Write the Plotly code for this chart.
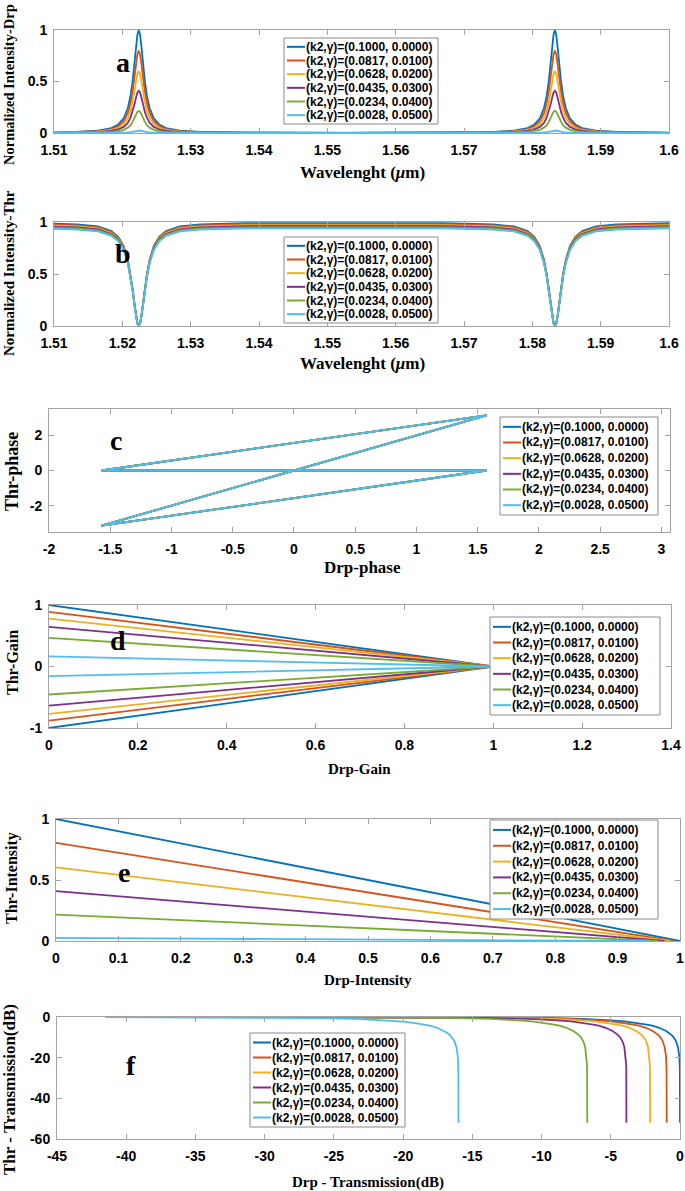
import plotly.graph_objects as go

W, H = 685, 1191

series_labels = ["(k2,γ)=(0.1000, 0.0000)", "(k2,γ)=(0.0817, 0.0100)", "(k2,γ)=(0.0628, 0.0200)",
                 "(k2,γ)=(0.0435, 0.0300)", "(k2,γ)=(0.0234, 0.0400)", "(k2,γ)=(0.0028, 0.0500)"]
colors = ["#0072BD", "#D95319", "#EDB120", "#7E2F8E", "#77AC30", "#4DBEEE"]

# ---------------- panel a / b : wavelength (um) ----------------
wavelength_um = [1.51, 1.5134, 1.5164, 1.5184, 1.5194, 1.5202, 1.5208, 1.5212, 1.5215, 1.5218, 1.5220, 1.5222,
                 1.5224, 1.5226, 1.5228, 1.5230, 1.5233, 1.5236, 1.5240, 1.5246, 1.5254, 1.5264, 1.5284, 1.5314,
                 1.538, 1.5528, 1.567, 1.5743, 1.5773, 1.5793, 1.5803, 1.5811, 1.5817, 1.5821, 1.5824, 1.5827,
                 1.5829, 1.5831, 1.5833, 1.5835, 1.5837, 1.5839, 1.5842, 1.5845, 1.5849, 1.5855, 1.5863, 1.5873,
                 1.5893, 1.5923, 1.60]

drp_blue = [0.005, 0.010, 0.022, 0.048, 0.083, 0.143, 0.240, 0.360, 0.500, 0.692, 0.835, 0.953, 1.000, 0.953,
            0.835, 0.692, 0.500, 0.360, 0.240, 0.143, 0.083, 0.048, 0.022, 0.010, 0.004, 0.002, 0.004, 0.010,
            0.022, 0.048, 0.083, 0.143, 0.240, 0.360, 0.500, 0.692, 0.835, 0.953, 1.000, 0.953, 0.835, 0.692,
            0.500, 0.360, 0.240, 0.143, 0.083, 0.048, 0.022, 0.010, 0.003]
drp_orange = [0.004, 0.008, 0.018, 0.038, 0.066, 0.114, 0.192, 0.288, 0.400, 0.554, 0.668, 0.762, 0.800, 0.762,
              0.668, 0.554, 0.400, 0.288, 0.192, 0.114, 0.066, 0.038, 0.018, 0.008, 0.003, 0.002, 0.003, 0.008,
              0.018, 0.038, 0.066, 0.114, 0.192, 0.288, 0.400, 0.554, 0.668, 0.762, 0.800, 0.762, 0.668, 0.554,
              0.400, 0.288, 0.192, 0.114, 0.066, 0.038, 0.018, 0.008, 0.002]
drp_yellow = [0.003, 0.006, 0.013, 0.029, 0.050, 0.086, 0.144, 0.216, 0.300, 0.415, 0.501, 0.572, 0.600, 0.572,
              0.501, 0.415, 0.300, 0.216, 0.144, 0.086, 0.050, 0.029, 0.013, 0.006, 0.002, 0.001, 0.002, 0.006,
              0.013, 0.029, 0.050, 0.086, 0.144, 0.216, 0.300, 0.415, 0.501, 0.572, 0.600, 0.572, 0.501, 0.415,
              0.300, 0.216, 0.144, 0.086, 0.050, 0.029, 0.013, 0.006, 0.002]
drp_purple = [0.002, 0.004, 0.009, 0.020, 0.034, 0.059, 0.098, 0.148, 0.205, 0.284, 0.342, 0.391, 0.410, 0.391,
              0.342, 0.284, 0.205, 0.148, 0.098, 0.059, 0.034, 0.020, 0.009, 0.004, 0.002, 0.001, 0.002, 0.004,
              0.009, 0.020, 0.034, 0.059, 0.098, 0.148, 0.205, 0.284, 0.342, 0.391, 0.410, 0.391, 0.342, 0.284,
              0.205, 0.148, 0.098, 0.059, 0.034, 0.020, 0.009, 0.004, 0.001]
drp_green = [0.001, 0.002, 0.005, 0.010, 0.018, 0.031, 0.052, 0.077, 0.108, 0.149, 0.180, 0.205, 0.215, 0.205,
             0.180, 0.149, 0.108, 0.077, 0.052, 0.031, 0.018, 0.010, 0.005, 0.002, 0.001, 0.000, 0.001, 0.002,
             0.005, 0.010, 0.018, 0.031, 0.052, 0.077, 0.108, 0.149, 0.180, 0.205, 0.215, 0.205, 0.180, 0.149,
             0.108, 0.077, 0.052, 0.031, 0.018, 0.010, 0.005, 0.002, 0.001]
drp_lightblue = [0.000, 0.000, 0.001, 0.001, 0.002, 0.004, 0.006, 0.009, 0.013, 0.017, 0.021, 0.024, 0.025, 0.024,
                 0.021, 0.017, 0.013, 0.009, 0.006, 0.004, 0.002, 0.001, 0.001, 0.000, 0.000, 0.000, 0.000, 0.000,
                 0.001, 0.001, 0.002, 0.004, 0.006, 0.009, 0.013, 0.017, 0.021, 0.024, 0.025, 0.024, 0.021, 0.017,
                 0.013, 0.009, 0.006, 0.004, 0.002, 0.001, 0.001, 0.000, 0.000]

thr_blue = [0.984, 0.978, 0.957, 0.912, 0.858, 0.767, 0.637, 0.498, 0.358, 0.199, 0.100, 0.027, 0.000, 0.027,
            0.100, 0.199, 0.358, 0.498, 0.637, 0.767, 0.858, 0.912, 0.957, 0.978, 0.989, 0.992, 0.989, 0.978,
            0.957, 0.912, 0.858, 0.767, 0.637, 0.498, 0.358, 0.199, 0.100, 0.027, 0.000, 0.027, 0.100, 0.199,
            0.358, 0.498, 0.637, 0.767, 0.858, 0.912, 0.957, 0.978, 0.990]
thr_orange = [0.974, 0.968, 0.948, 0.903, 0.849, 0.759, 0.630, 0.493, 0.355, 0.197, 0.099, 0.027, 0.000, 0.027,
              0.099, 0.197, 0.355, 0.493, 0.630, 0.759, 0.849, 0.903, 0.948, 0.968, 0.979, 0.982, 0.979, 0.968,
              0.948, 0.903, 0.849, 0.759, 0.630, 0.493, 0.355, 0.197, 0.099, 0.027, 0.000, 0.027, 0.099, 0.197,
              0.355, 0.493, 0.630, 0.759, 0.849, 0.903, 0.948, 0.968, 0.980]
thr_yellow = [0.964, 0.958, 0.938, 0.894, 0.840, 0.752, 0.624, 0.488, 0.351, 0.195, 0.098, 0.026, 0.000, 0.026,
              0.098, 0.195, 0.351, 0.488, 0.624, 0.752, 0.840, 0.894, 0.938, 0.958, 0.969, 0.972, 0.969, 0.958,
              0.938, 0.894, 0.840, 0.752, 0.624, 0.488, 0.351, 0.195, 0.098, 0.026, 0.000, 0.026, 0.098, 0.195,
              0.351, 0.488, 0.624, 0.752, 0.840, 0.894, 0.938, 0.958, 0.970]
thr_purple = [0.954, 0.948, 0.928, 0.885, 0.832, 0.744, 0.618, 0.483, 0.347, 0.193, 0.097, 0.026, 0.000, 0.026,
              0.097, 0.193, 0.347, 0.483, 0.618, 0.744, 0.832, 0.885, 0.928, 0.948, 0.959, 0.962, 0.959, 0.948,
              0.928, 0.885, 0.832, 0.744, 0.618, 0.483, 0.347, 0.193, 0.097, 0.026, 0.000, 0.026, 0.097, 0.193,
              0.347, 0.483, 0.618, 0.744, 0.832, 0.885, 0.928, 0.948, 0.960]
thr_green = [0.944, 0.938, 0.919, 0.876, 0.823, 0.736, 0.611, 0.478, 0.344, 0.191, 0.096, 0.026, 0.000, 0.026,
             0.096, 0.191, 0.344, 0.478, 0.611, 0.736, 0.823, 0.876, 0.919, 0.938, 0.949, 0.952, 0.949, 0.938,
             0.919, 0.876, 0.823, 0.736, 0.611, 0.478, 0.344, 0.191, 0.096, 0.026, 0.000, 0.026, 0.096, 0.191,
             0.344, 0.478, 0.611, 0.736, 0.823, 0.876, 0.919, 0.938, 0.950]
thr_lightblue = [0.935, 0.928, 0.909, 0.867, 0.815, 0.729, 0.605, 0.473, 0.340, 0.189, 0.095, 0.026, 0.000, 0.026,
                 0.095, 0.189, 0.340, 0.473, 0.605, 0.729, 0.815, 0.867, 0.909, 0.928, 0.939, 0.942, 0.939, 0.928,
                 0.909, 0.867, 0.815, 0.729, 0.605, 0.473, 0.340, 0.189, 0.095, 0.026, 0.000, 0.026, 0.095, 0.189,
                 0.340, 0.473, 0.605, 0.729, 0.815, 0.867, 0.909, 0.928, 0.940]

# ---------------- panel c : phase ----------------
c_drp_phase = [-1.5708, 1.5708, -1.5708, 1.5708, -1.5708]
c_thr_phase = [0.0, 3.1416, -3.1416, 0.0, 0.0]

# ---------------- panel d : gain ----------------
d_drp_gain = [0.0, 1.0, 0.0]
d_thr_blue = [1.0, 0.0, -1.0]
d_thr_orange = [0.89, 0.0, -0.88]
d_thr_yellow = [0.78, 0.0, -0.77]
d_thr_purple = [0.645, 0.0, -0.635]
d_thr_green = [0.465, 0.0, -0.455]
d_thr_lightblue = [0.165, 0.0, -0.155]

# ---------------- panel e : intensity ----------------
e_drp_blue, e_thr_blue = [0.0, 1.0], [1.0, 0.0]
e_drp_orange, e_thr_orange = [0.0, 0.99], [0.805, 0.0]
e_drp_yellow, e_thr_yellow = [0.0, 0.985], [0.603, 0.0]
e_drp_purple, e_thr_purple = [0.0, 0.975], [0.408, 0.0]
e_drp_green, e_thr_green = [0.0, 0.965], [0.216, 0.0]
e_drp_lightblue, e_thr_lightblue = [0.0, 0.95], [0.025, 0.0]

# ---------------- panel f : transmission (dB) ----------------
f_drp_blue = [-23.4, -15.0, -10.0, -7.0, -6.0, -5.0, -4.0, -3.0, -2.5, -2.0, -1.5, -1.0, -0.8, -0.6, -0.45,
              -0.3, -0.15, -0.05, -0.02, -0.01, 0.0]
f_drp_orange = [-25.3, -15.96, -10.96, -7.96, -6.96, -5.96, -4.96, -3.96, -3.46, -2.96, -2.46, -1.96, -1.76,
                -1.56, -1.41, -1.26, -1.11, -1.01, -0.98, -0.97, -0.96]
f_drp_yellow = [-27.0, -17.16, -12.16, -9.16, -8.16, -7.16, -6.16, -5.16, -4.66, -4.16, -3.66, -3.16, -2.96,
                -2.76, -2.61, -2.46, -2.31, -2.21, -2.18, -2.17, -2.16]
f_drp_purple = [-29.5, -18.87, -13.87, -10.87, -9.87, -8.87, -7.87, -6.87, -6.37, -5.87, -5.37, -4.87, -4.67,
                -4.47, -4.32, -4.17, -4.02, -3.92, -3.89, -3.88, -3.87]
f_drp_green = [-32.3, -21.7, -16.7, -13.7, -12.7, -11.7, -10.7, -9.7, -9.2, -8.7, -8.2, -7.7, -7.5, -7.3,
               -7.15, -7.0, -6.85, -6.75, -6.72, -6.71, -6.7]
f_drp_lightblue = [-41.5, -31.0, -26.0, -23.0, -22.0, -21.0, -20.0, -19.0, -18.5, -18.0, -17.5, -17.0, -16.8,
                   -16.6, -16.45, -16.3, -16.15, -16.05, -16.02, -16.01, -16.0]
f_thr_blue = [0.0, -0.14, -0.46, -0.97, -1.25, -1.65, -2.2, -3.0, -3.6, -4.3, -5.3, -6.9, -7.8, -8.9, -10.1,
              -11.7, -14.7, -19.4, -23.4, -26.4, -52.0]
f_thr_orange = [0.0, -0.14, -0.46, -0.97, -1.25, -1.65, -2.2, -3.0, -3.6, -4.3, -5.3, -6.9, -7.8, -8.9, -10.1,
                -11.7, -14.7, -19.4, -23.4, -26.4, -52.0]
f_thr_yellow = [0.0, -0.14, -0.46, -0.97, -1.25, -1.65, -2.2, -3.0, -3.6, -4.3, -5.3, -6.9, -7.8, -8.9, -10.1,
                -11.7, -14.7, -19.4, -23.4, -26.4, -52.0]
f_thr_purple = [0.0, -0.14, -0.46, -0.97, -1.25, -1.65, -2.2, -3.0, -3.6, -4.3, -5.3, -6.9, -7.8, -8.9, -10.1,
                -11.7, -14.7, -19.4, -23.4, -26.4, -52.0]
f_thr_green = [0.0, -0.14, -0.46, -0.97, -1.25, -1.65, -2.2, -3.0, -3.6, -4.3, -5.3, -6.9, -7.8, -8.9, -10.1,
               -11.7, -14.7, -19.4, -23.4, -26.4, -52.0]
f_thr_lightblue = [0.0, -0.2, -0.55, -1.05, -1.35, -1.75, -2.3, -3.1, -3.7, -4.4, -5.4, -7.0, -7.9, -9.0, -10.2,
                   -11.8, -14.8, -19.5, -23.5, -26.5, -52.0]

# tick labels
ab_x_ticks = [1.51, 1.52, 1.53, 1.54, 1.55, 1.56, 1.57, 1.58, 1.59, 1.60]
ab_x_text = ["1.51", "1.52", "1.53", "1.54", "1.55", "1.56", "1.57", "1.58", "1.59", "1.6"]
ab_y_ticks, ab_y_text = [0, 0.5, 1], ["0", "0.5", "1"]
c_x_ticks = [-2, -1.5, -1, -0.5, 0, 0.5, 1, 1.5, 2, 2.5, 3]
c_x_text = ["-2", "-1.5", "-1", "-0.5", "0", "0.5", "1", "1.5", "2", "2.5", "3"]
c_y_ticks, c_y_text = [-2, 0, 2], ["-2", "0", "2"]
d_x_ticks = [0, 0.2, 0.4, 0.6, 0.8, 1.0, 1.2, 1.4]
d_x_text = ["0", "0.2", "0.4", "0.6", "0.8", "1", "1.2", "1.4"]
d_y_ticks, d_y_text = [-1, 0, 1], ["-1", "0", "1"]
e_x_ticks = [0, 0.1, 0.2, 0.3, 0.4, 0.5, 0.6, 0.7, 0.8, 0.9, 1.0]
e_x_text = ["0", "0.1", "0.2", "0.3", "0.4", "0.5", "0.6", "0.7", "0.8", "0.9", "1"]
e_y_ticks, e_y_text = [0, 0.5, 1], ["0", "0.5", "1"]
f_x_ticks = [-45, -40, -35, -30, -25, -20, -15, -10, -5, 0]
f_x_text = ["-45", "-40", "-35", "-30", "-25", "-20", "-15", "-10", "-5", "0"]
f_y_ticks, f_y_text = [-60, -40, -20, 0], ["-60", "-40", "-20", "0"]

# ---------------- figure ----------------
fig = go.Figure()


def px_x(p):
    return p / W


def px_y(p):
    return 1 - p / H


# panel boxes in pixels: (left, top, right, bottom)
boxes = {
    1: (54, 30, 669, 133),
    2: (54, 222, 669, 326),
    3: (49, 409, 670, 532),
    4: (49, 605, 671, 728),
    5: (56, 819, 680, 941),
    6: (57, 1017, 680, 1139),
}
ranges = {
    1: ([1.51, 1.60], [0, 1]),
    2: ([1.51, 1.60], [0, 1]),
    3: ([-2, 3.07], [-3.5, 3.5]),
    4: ([0, 1.4], [-1, 1]),
    5: ([0, 1], [0, 1]),
    6: ([-45, 0], [-60, 0]),
}
ticks = {
    1: (ab_x_ticks, ab_x_text, ab_y_ticks, ab_y_text),
    2: (ab_x_ticks, ab_x_text, ab_y_ticks, ab_y_text),
    3: (c_x_ticks, c_x_text, c_y_ticks, c_y_text),
    4: (d_x_ticks, d_x_text, d_y_ticks, d_y_text),
    5: (e_x_ticks, e_x_text, e_y_ticks, e_y_text),
    6: (f_x_ticks, f_x_text, f_y_ticks, f_y_text),
}

panel_data = {
    1: [(wavelength_um, y) for y in [drp_blue, drp_orange, drp_yellow, drp_purple, drp_green, drp_lightblue]],
    2: [(wavelength_um, y) for y in [thr_blue, thr_orange, thr_yellow, thr_purple, thr_green, thr_lightblue]],
    3: [(c_drp_phase, c_thr_phase) for _ in range(6)],
    4: [(d_drp_gain, y) for y in [d_thr_blue, d_thr_orange, d_thr_yellow, d_thr_purple, d_thr_green,
                                   d_thr_lightblue]],
    5: [(e_drp_blue, e_thr_blue), (e_drp_orange, e_thr_orange), (e_drp_yellow, e_thr_yellow),
        (e_drp_purple, e_thr_purple), (e_drp_green, e_thr_green), (e_drp_lightblue, e_thr_lightblue)],
    6: [(f_drp_blue, f_thr_blue), (f_drp_orange, f_thr_orange), (f_drp_yellow, f_thr_yellow),
        (f_drp_purple, f_thr_purple), (f_drp_green, f_thr_green), (f_drp_lightblue, f_thr_lightblue)],
}

axis_color = "#a3a3a3"
tick_font = dict(family="Liberation Sans, Arial", size=14, color="#000000", weight="bold")

layout_axes = {}
for k in range(1, 7):
    l, t, r, b = boxes[k]
    xr, yr = ranges[k]
    xt, xtt, yt, ytt = ticks[k]
    suffix = "" if k == 1 else str(k)
    layout_axes["xaxis" + suffix] = dict(
        domain=[px_x(l), px_x(r)], range=xr, anchor="y" + suffix, showgrid=False, zeroline=False,
        showline=True, linecolor=axis_color, linewidth=1, mirror="ticks", ticks="inside", ticklen=5,
        tickcolor=axis_color, tickvals=xt, ticktext=xtt, tickfont=tick_font, ticklabelstandoff=4,
        automargin=False, fixedrange=True,
    )
    layout_axes["yaxis" + suffix] = dict(
        domain=[px_y(b), px_y(t)], range=yr, anchor="x" + suffix, showgrid=False, zeroline=False,
        showline=True, linecolor=axis_color, linewidth=1, mirror="ticks", ticks="inside", ticklen=5,
        tickcolor=axis_color, tickvals=yt, ticktext=ytt, tickfont=tick_font, ticklabelstandoff=3,
        automargin=False, fixedrange=True,
    )
    for i, (xs, ys) in enumerate(panel_data[k]):
        fig.add_trace(go.Scatter(
            x=xs, y=ys, mode="lines", name=series_labels[i], showlegend=False,
            line=dict(color=colors[i], width=1.8),
            xaxis="x" + suffix, yaxis="y" + suffix,
        ))

fig.update_layout(**layout_axes)

shapes = []
annotations = []

# legends: (left, top, right, bottom) in pixels
legend_boxes = [
    (284, 38, 438, 124),
    (284, 237, 438, 323),
    (500, 417, 658, 515),
    (490, 617, 660, 715),
    (490, 820, 658, 919),
    (250, 1033, 405, 1127),
]
for (l, t, r, b) in legend_boxes:
    shapes.append(dict(type="rect", xref="paper", yref="paper", x0=px_x(l), x1=px_x(r), y0=px_y(b), y1=px_y(t),
                       line=dict(color="#8a8a8a", width=1), fillcolor="white", layer="above"))
    rowh = (b - t - 4) / 6.0
    for i in range(6):
        yc = t + 2 + rowh * (i + 0.5)
        shapes.append(dict(type="line", xref="paper", yref="paper", x0=px_x(l + 3), x1=px_x(l + 21),
                           y0=px_y(yc), y1=px_y(yc), line=dict(color=colors[i], width=2), layer="above"))
        annotations.append(dict(xref="paper", yref="paper", x=px_x(l + 20), y=px_y(yc), xanchor="left",
                                yanchor="middle", showarrow=False, text="<b>" + series_labels[i] + "</b>",
                                font=dict(family="Liberation Sans, Arial", size=12, color="#000000")))

serif = "Liberation Serif, Times New Roman"


def add_text(text, x, y, size, angle=0):
    annotations.append(dict(xref="paper", yref="paper", x=px_x(x), y=px_y(y), xanchor="center",
                            yanchor="middle", showarrow=False, text="<b>" + text + "</b>", textangle=angle,
                            font=dict(family=serif, size=size, color="#000000")))


# axis titles
add_text("Wavelenght (<i>μ</i>m)", 362, 173, 17)
add_text("Normalized Intensity-Drp", 9, 85, 14.5, -90)
add_text("Wavelenght (<i>μ</i>m)", 362, 363, 17)
add_text("Normalized Intensity-Thr", 9, 273, 15, -90)
add_text("Drp-phase", 362, 567, 17)
add_text("Thr-phase", 12, 472, 18, -90)
add_text("Drp-Gain", 359, 769, 15)
add_text("Thr-Gain", 12, 663, 16, -90)
add_text("Drp-Intensity", 368, 980, 15)
add_text("Thr-Intensity", 12, 878, 16, -90)
add_text("Drp - Transmission(dB)", 368, 1182, 15)
add_text("Thr - Transmission(dB)", 9, 1090, 17, -90)

# panel letters
add_text("a", 123, 62, 28)
add_text("b", 123, 253, 28)
add_text("c", 116, 440, 28)
add_text("d", 118, 640, 28)
add_text("e", 124, 872, 28)
add_text("f", 131, 1065, 28)

fig.update_layout(
    width=W, height=H, autosize=False,
    margin=dict(l=0, r=0, t=0, b=0, autoexpand=False),
    paper_bgcolor="white", plot_bgcolor="white",
    shapes=shapes, annotations=annotations,
    showlegend=False,
)

fig.write_html(
    "out.html",
    config={"displayModeBar": False},
    post_script="document.body.style.margin='0';document.body.style.padding='0';"
                "document.documentElement.style.overflow='hidden';",
)
